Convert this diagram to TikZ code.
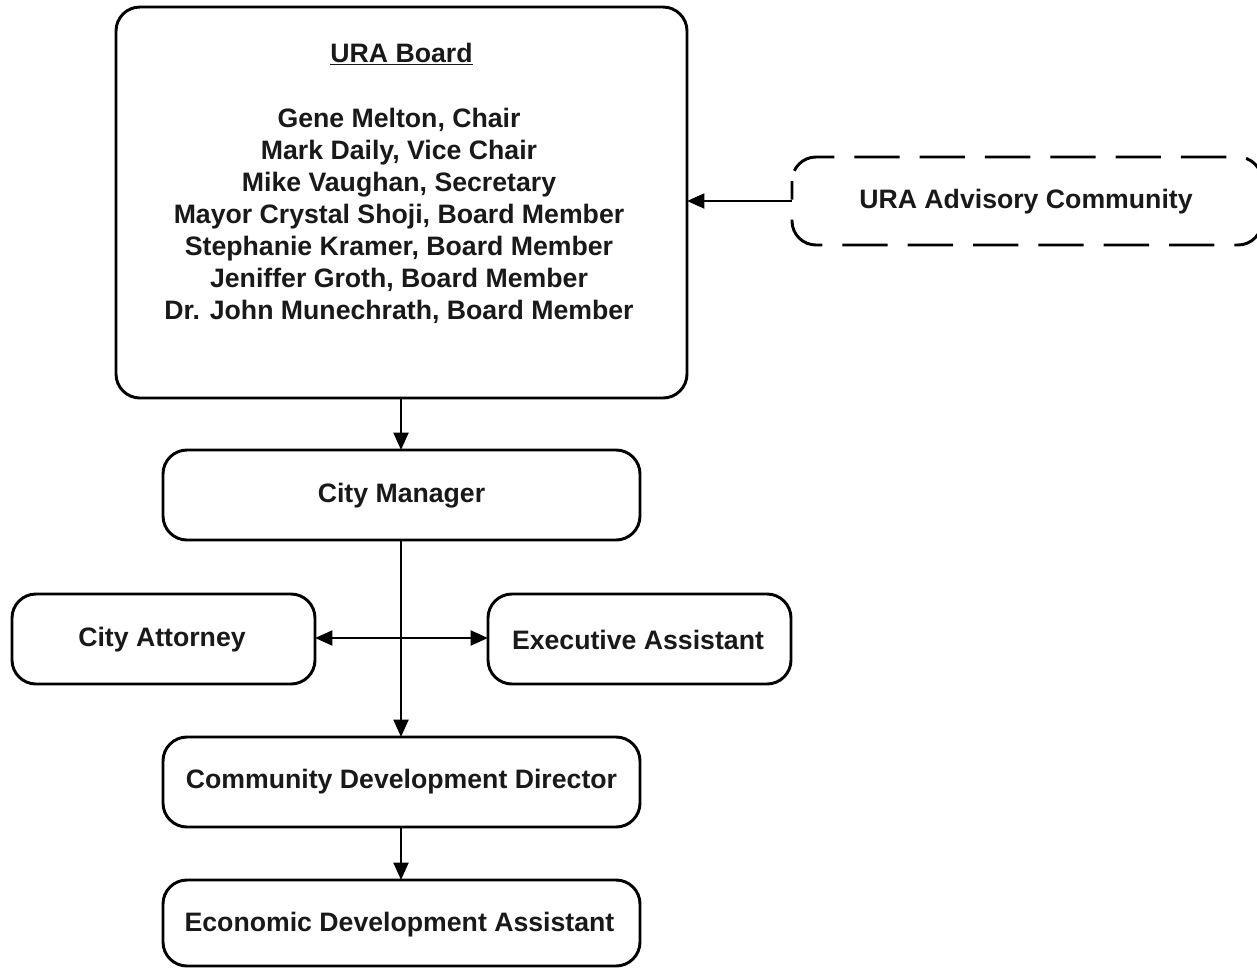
\documentclass[tikz,border=0pt]{standalone}
\usepackage{fontspec}
\setmainfont{Liberation Sans}
\usetikzlibrary{arrows.meta}
\begin{document}
\begin{tikzpicture}[x=0.75pt,y=-0.75pt,
  box/.style={draw=black,line width=2.2pt,rounded corners=18pt,fill=white},
  lbl/.style={font=\fontsize{20}{24}\selectfont\bfseries,align=center,text=black!90},
  conn/.style={line width=2.2pt,-{Triangle[length=13pt,width=11pt]}},
  dconn/.style={line width=2.2pt,{Triangle[length=13pt,width=11pt]}-{Triangle[length=13pt,width=11pt]}}]
\useasboundingbox (0,0) rectangle (1257,968);
\fill[white] (0,0) rectangle (1257,968);
% boxes
\draw[box] (116,7) rectangle (687,398);
\node[lbl] (board) at (401.5,54) {\underline{URA Board}};
\node[lbl] (members) at (399,216) {Gene Melton, Chair\\Mark Daily, Vice Chair\\Mike Vaughan, Secretary\\Mayor Crystal Shoji, Board Member\\Stephanie Kramer, Board Member\\Jeniffer Groth, Board Member\\Dr. John Munechrath, Board Member};
\coordinate (boardR) at (687,201);
\coordinate (boardB) at (401,398);

\draw[box,dash pattern=on 34pt off 15pt,dash phase=20pt] (792,157) rectangle (1262,245);
\node[lbl] (adv) at (1026,202) {URA Advisory Community};
\coordinate (advL) at (792,201);

\draw[box] (163,450) rectangle (640,540);
\node[lbl] (cm) at (401.5,496) {City Manager};
\coordinate (cmT) at (401,450);
\coordinate (cmB) at (401,540);

\draw[box] (12,594) rectangle (315,684);
\node[lbl] (ca) at (162,640) {City Attorney};
\coordinate (caR) at (315,638);

\draw[box] (488,594) rectangle (791,684);
\node[lbl] (ea) at (638,640) {Executive Assistant};
\coordinate (eaL) at (488,638);

\draw[box] (163,737) rectangle (640,827);
\node[lbl] (cdd) at (401.5,782) {Community Development Director};
\coordinate (cddT) at (401,737);
\coordinate (cddB) at (401,827);

\draw[box] (163,880) rectangle (640,966);
\node[lbl] (eda) at (399.5,925) {Economic Development Assistant};
\coordinate (edaT) at (401,880);

% connectors
\draw[conn] (advL) -- (boardR);
\draw[conn] (boardB) -- (cmT);
\draw[conn] (cmB) -- (cddT);
\draw[dconn] (caR) -- (eaL);
\draw[conn] (cddB) -- (edaT);
\end{tikzpicture}
\end{document}
